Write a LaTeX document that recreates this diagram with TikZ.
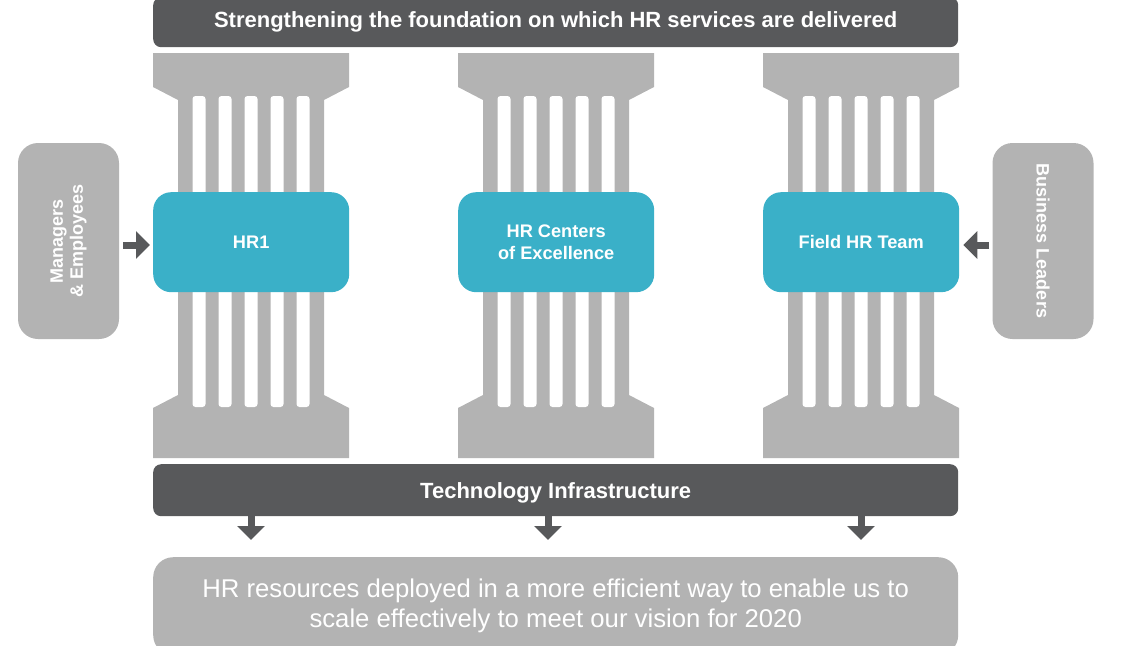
\documentclass[tikz,border=0pt]{standalone}
\usepackage{fontspec}
\setmainfont{Liberation Sans}
\usetikzlibrary{arrows.meta}
\definecolor{darkg}{HTML}{58595B}
\definecolor{lightg}{HTML}{B3B3B3}
\definecolor{tealb}{HTML}{3AB0C8}
\tikzset{
  bar/.style={fill=darkg, rounded corners=8pt, text=white, font=\bfseries\fontsize{22}{24}\selectfont,
    inner sep=0pt, anchor=north west, minimum width=805pt},
  pillarbox/.style={fill=tealb, rounded corners=18pt, text=white, font=\bfseries\fontsize{18.2}{22}\selectfont,
    align=center, minimum width=196pt, minimum height=100pt, inner sep=0pt, anchor=north west},
  sidebox/.style={fill=lightg, rounded corners=20pt, text=white, font=\bfseries\fontsize{18}{20}\selectfont,
    align=center, minimum width=196pt, minimum height=101pt, inner sep=0pt, anchor=center},
  goalbox/.style={fill=lightg, rounded corners=20pt, text=white, font=\fontsize{25.7}{30}\selectfont,
    align=center, minimum width=805pt, minimum height=98pt, inner sep=0pt, anchor=north west},
  pillarshape/.style={fill=lightg},
  flute/.style={fill=white, rounded corners=3pt},
  pointer/.style={draw=darkg, line width=7pt, -{Triangle[width=27pt,length=14pt]}},
}
\begin{document}
\begin{tikzpicture}[x=1pt,y=-1pt]
\useasboundingbox (0,0) rectangle (1129,645);
\clip (0,0) rectangle (1129,645);

% top bar
\node[bar, minimum height=50pt] (top) at (153,-3) {Strengthening the foundation on which HR services are delivered};

% pillars
\foreach \x in {153,458,763}{
  \fill[pillarshape] (\x,53) -- (\x+196,53) -- (\x+196,87) -- (\x+171,100) -- (\x+171,395)
    -- (\x+196,408) -- (\x+196,458) -- (\x,458) -- (\x,408) -- (\x+25,395) -- (\x+25,100)
    -- (\x,87) -- cycle;
  \foreach \k in {0,...,4}{
    \fill[flute] (\x+39.5+26*\k,96) rectangle (\x+52.5+26*\k,407);
  }
}

% blue boxes
\node[pillarbox] (hr1) at (153,192) {HR1};
\node[pillarbox] (coe) at (458,192) {HR Centers\\of Excellence};
\node[pillarbox] (field) at (763,192) {Field HR Team};

% side boxes
\node[sidebox, rotate=90] (mgr) at (68.5,241) {Managers\\\& Employees};
\node[sidebox, rotate=-90] (biz) at (1043,241) {Business Leaders};

% tech bar
\node[bar, minimum height=52pt, text depth=0pt] (tech) at (153,464) {Technology Infrastructure};

% goal
\node[goalbox] (goal) at (153,557) {HR resources deployed in a more efficient way to enable us to\\scale effectively to meet our vision for 2020};

% arrows
\coordinate (a1) at (123,245);
\coordinate (a2) at (989,245);
\draw[pointer, shorten >=3pt] (a1) -- (a1 -| hr1.west);
\draw[pointer, shorten >=4pt] (a2) -- (a2 -| field.east);
\foreach \ax/\nm in {251/d1,548/d2,861/d3}{
  \coordinate (\nm) at (\ax,516);
  \draw[pointer, shorten >=17pt] (\nm) -- (\nm |- goal.north);
}
\end{tikzpicture}
\end{document}
